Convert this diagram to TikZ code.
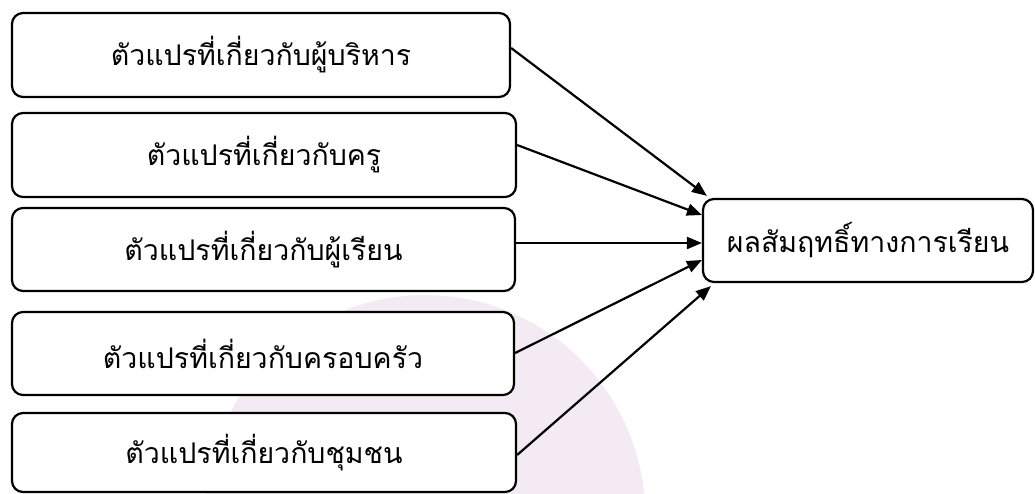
\documentclass[tikz,border=0pt]{standalone}
\usepackage{fontspec}
\newfontfamily\thaifont[Script=Thai]{Loma}
\usetikzlibrary{arrows.meta,calc}
\definecolor{wm}{RGB}{243,234,244}
\begin{document}
\begin{tikzpicture}[x=1pt,y=-1pt,
  box/.style={draw, fill=white, line width=2.2pt, rounded corners=11pt, inner sep=0pt,
    font=\thaifont\fontsize{28.5}{32}\selectfont},
  arr/.style={line width=2.2pt, -{Triangle[length=15pt,width=12pt]}}]
\useasboundingbox (0,0) rectangle (1035,493);
\fill[wm] (425,515) circle (220);
\node[box, minimum width=498pt, minimum height=84pt] (b1) at (261,55) {ตัวแปรที่เกี่ยวกับผู้บริหาร};
\node[box, minimum width=504pt, minimum height=84pt] (b2) at (264,155) {ตัวแปรที่เกี่ยวกับครู};
\node[box, minimum width=503pt, minimum height=83pt] (b3) at (263.5,249.5) {ตัวแปรที่เกี่ยวกับผู้เรียน};
\node[box, minimum width=502pt, minimum height=83pt] (b4) at (263,353.5) {ตัวแปรที่เกี่ยวกับครอบครัว};
\node[box, minimum width=504pt, minimum height=79pt] (b5) at (264,452.5) {ตัวแปรที่เกี่ยวกับชุมชน};
\node[box, minimum width=330pt, minimum height=83pt] (r) at (868,240.5) {ผลสัมฤทธิ์ทางการเรียน};
\draw[arr] ($(b1.east)+(0,-7)$) -- ($(r.north west)+(5,-2)$);
\draw[arr] ($(b2.east)+(0,-10)$) -- ($(r.west)+(0,-25.5)$);
\draw[arr] ($(b3.east)+(0,-6.5)$) -- ($(r.west)+(0,2.5)$);
\draw[arr] ($(b4.east)+(0,-0.5)$) -- ($(r.west)+(0,19.5)$);
\draw[arr] ($(b5.east)+(0,2.5)$) -- ($(r.south west)+(9,3)$);
\end{tikzpicture}
\end{document}
